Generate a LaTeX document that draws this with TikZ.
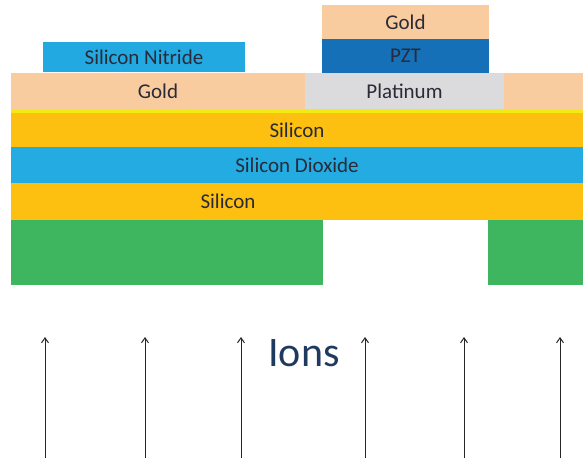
\documentclass[tikz,border=0pt]{standalone}
\usepackage{fontspec}
\setmainfont{Carlito}
\usetikzlibrary{arrows.meta}
\definecolor{gold}{HTML}{F9CC9F}
\definecolor{nitride}{HTML}{22A9E1}
\definecolor{pzt}{HTML}{1570B8}
\definecolor{plat}{HTML}{DBDBDD}
\definecolor{ylw}{HTML}{F3EA14}
\definecolor{si}{HTML}{FDBF10}
\definecolor{sio}{HTML}{23ABE2}
\definecolor{grn}{HTML}{3EB660}
\definecolor{lbl}{HTML}{2A2A38}
\definecolor{ionc}{HTML}{1F3A5F}
\tikzset{
  layer/.style={draw=none, inner sep=0pt, outer sep=0pt, anchor=north west,
    font=\fontsize{21}{21}\selectfont, text=lbl},
  ionarrow/.style={-{Straight Barb[length=5pt,width=7pt]}, line width=1pt, draw=black!85}
}
\begin{document}
\begin{tikzpicture}[x=1pt,y=-1pt]
\useasboundingbox (0,0) rectangle (583,461);
% top gold and PZT
\node[layer, fill=gold, minimum width=167pt, minimum height=34pt] (augt) at (322,5) {Gold};
\node[layer, fill=pzt, minimum width=167pt, minimum height=34pt] (pzt) at (322,39) {PZT};
% silicon nitride
\node[layer, fill=nitride, minimum width=202pt, minimum height=30pt] (sin) at (43,42) {Silicon Nitride};
% gold layer with platinum
\fill[gold] (11,73) rectangle (583,110);
\node[layer, fill=gold, minimum width=294pt, minimum height=37pt, anchor=north west] (au) at (11,73) {Gold};
\node[layer, fill=plat, minimum width=199pt, minimum height=36pt] (pt) at (305,73) {Platinum};
% yellow line
\fill[ylw] (11,109.5) rectangle (583,114);
% silicon
\node[layer, fill=si, minimum width=572pt, minimum height=34pt] (si1) at (11,113) {Silicon};
\node[layer, fill=sio, minimum width=572pt, minimum height=36pt] (sio) at (11,147) {Silicon Dioxide};
\fill[si] (11,183) rectangle (583,220);
\node[layer, anchor=center] (si2) at (228,201.5) {Silicon};
% green
\fill[grn] (11,220) rectangle (323,285);
\fill[grn] (488,220) rectangle (583,285);
% ions
\node[font=\fontsize{42}{42}\selectfont, text=ionc, inner sep=0pt] (ions) at (304,353) {Ions};
\foreach \x [count=\i] in {45,145,241,365,464,560} {
  \coordinate (b\i) at (\x,458);
  \coordinate (t\i) at (\x,337);
  \draw[ionarrow] (b\i) -- (t\i);
}
\end{tikzpicture}
\end{document}
